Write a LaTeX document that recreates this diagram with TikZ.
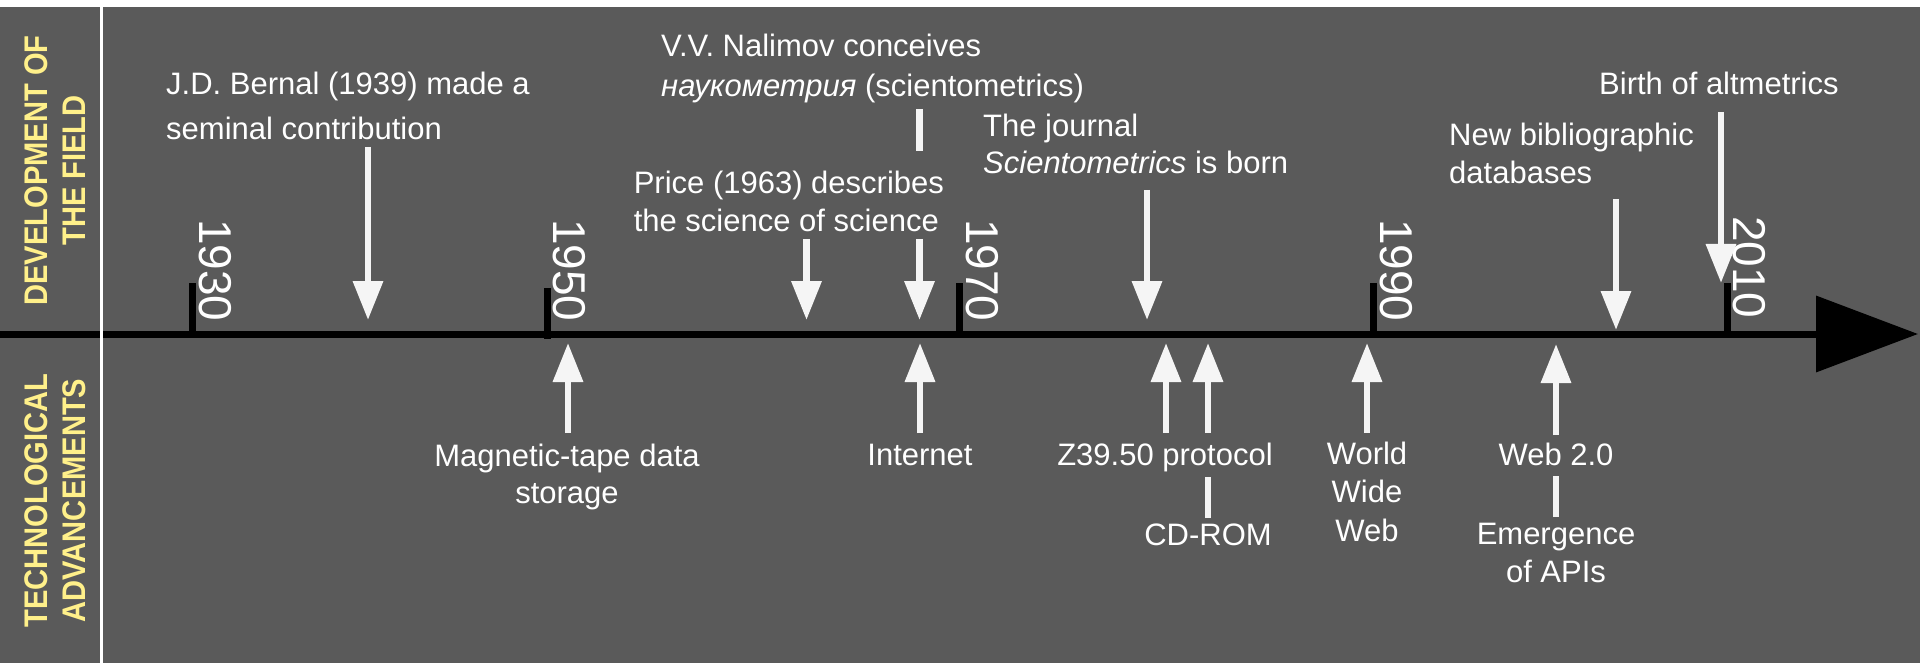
\documentclass[tikz,border=0pt]{standalone}
\usepackage{fontspec}
\setmainfont{Liberation Sans}
\newfontfamily\sidefont{Liberation Sans}[FakeStretch=0.89]
\usetikzlibrary{arrows.meta}

\definecolor{panelgray}{HTML}{5A5A5A}
\definecolor{markwhite}{HTML}{F5F5F5}
\definecolor{sideyellow}{HTML}{FFF08A}

\begin{document}
\begin{tikzpicture}[x=1pt,y=-1pt,
  % multi-line nodes are placed by the baseline of their last line
  evtext/.style={text=white, inner sep=0pt},
  toptext/.style={evtext, anchor=base west, align=left},
  bottext/.style={evtext, anchor=base, align=center},
  yearlbl/.style={text=white, inner sep=0pt, rotate=-90, anchor=base west,
                  font=\fontsize{46}{46}\selectfont},
  sidelbl/.style={text=sideyellow, inner sep=0pt, rotate=90, anchor=base, align=center,
                  font=\sidefont\bfseries\fontsize{32.7}{38}\selectfont},
  evarrow/.style={draw=markwhite, line width=6.5pt, -{Triangle[length=39pt,width=29pt]}},
  evline/.style={draw=markwhite, line width=6.5pt},
  tickmark/.style={draw=black, line width=7pt},
]
\useasboundingbox (0,0) rectangle (1920,663);
\fill[white] (0,0) rectangle (1920,663);
\fill[panelgray] (0,7) rectangle (1920,663);

% time axis
\coordinate (axisstart) at (0,334);
\coordinate (axisend) at (1918,334);
\draw[line width=7pt, -{Triangle[length=102pt,width=75pt]}] (axisstart) -- (axisend);

% decade ticks
\foreach \x/\t/\b in {192.5/283/334, 547/288/339, 959/283/334, 1373/283/334, 1727/283/334}
  \draw[tickmark] (\x,\t) -- (\x,\b);

% column divider
\coordinate (divtop) at (101.3,7);
\coordinate (divbot) at (101.3,663);
\draw[white, line width=3.5pt] (divtop) -- (divbot);

% side headings
\node[sidelbl] (devfield) at (85,170.5) {DEVELOPMENT OF\\THE FIELD};
\node[sidelbl] (techadv) at (85,500.5) {TECHNOLOGICAL\\ADVANCEMENTS};

% decade labels
\node[yearlbl] (y1930) at (199.5,219) {1930};
\node[yearlbl] (y1950) at (553,219) {1950};
\node[yearlbl] (y1970) at (966,219) {1970};
\node[yearlbl] (y1990) at (1380,219) {1990};
\node[yearlbl] (y2010) at (1733,216) {2010};

% development of the field
\node[toptext, font=\fontsize{31}{45}\selectfont] (bernal) at (166,139.3)
  {J.D. Bernal (1939) made a\\seminal contribution};
\node[toptext, font=\fontsize{31}{40}\selectfont] (nalimov) at (661,97)
  {V.V. Nalimov conceives\\\textit{наукометрия} (scientometrics)};
\node[toptext, font=\fontsize{31}{38.3}\selectfont] (price) at (633.6,231.6)
  {Price (1963) describes\\the science of science};
\node[toptext, font=\fontsize{31}{37.3}\selectfont] (journal) at (983,174)
  {The journal\\\textit{Scientometrics} is born};
\node[toptext, font=\fontsize{31}{38}\selectfont] (newbib) at (1449,183.5)
  {New bibliographic\\databases};
\node[toptext, font=\fontsize{31}{38}\selectfont] (altm) at (1599,94.5)
  {Birth of altmetrics};

% technological advancements
\node[bottext, font=\fontsize{31}{37.5}\selectfont] (tape) at (567,503.5)
  {Magnetic-tape data\\storage};
\node[bottext, font=\fontsize{31}{38}\selectfont] (internet) at (920,465) {Internet};
\node[bottext, font=\fontsize{31}{38}\selectfont] (z3950) at (1165,465) {Z39.50 protocol};
\node[bottext, font=\fontsize{31}{38}\selectfont] (cdrom) at (1208,545) {CD-ROM};
\node[bottext, font=\fontsize{31}{38.5}\selectfont] (www) at (1367,541) {World\\Wide\\Web};
\node[bottext, font=\fontsize{31}{38}\selectfont] (web2) at (1556,465) {Web 2.0};
\node[bottext, font=\fontsize{31}{38}\selectfont] (apis) at (1556,582) {Emergence\\of APIs};

% arrow end points
\coordinate (bernal-a) at (368,147);    \coordinate (bernal-b) at (368,320);
\coordinate (price-a) at (806.5,239);   \coordinate (price-b) at (806.5,320);
\coordinate (nalimov-a) at (919.5,109); \coordinate (nalimov-m) at (919.5,151);
\coordinate (nalimov-n) at (919.5,239); \coordinate (nalimov-b) at (919.5,320);
\coordinate (journal-a) at (1147,190);  \coordinate (journal-b) at (1147,320);
\coordinate (newbib-a) at (1616,199);   \coordinate (newbib-b) at (1616,330);
\coordinate (altm-a) at (1721,112);     \coordinate (altm-b) at (1721,283);

\coordinate (tape-a) at (568,433);      \coordinate (tape-b) at (568,343);
\coordinate (internet-a) at (920,433);  \coordinate (internet-b) at (920,343);
\coordinate (z3950-a) at (1166,433);    \coordinate (z3950-b) at (1166,343);
\coordinate (cdrom-a) at (1208,518);    \coordinate (cdrom-m) at (1208,477);
\coordinate (cdrom-n) at (1208,433);    \coordinate (cdrom-b) at (1208,343);
\coordinate (www-a) at (1367,433);      \coordinate (www-b) at (1367,343);
\coordinate (web2-a) at (1556,435);     \coordinate (web2-b) at (1556,344);
\coordinate (apis-a) at (1556,517);     \coordinate (apis-m) at (1556,476);

% event arrows
\draw[evarrow] (bernal-a) -- (bernal-b);
\draw[evarrow] (price-a) -- (price-b);
\draw[evline] (nalimov-a) -- (nalimov-m);
\draw[evarrow] (nalimov-n) -- (nalimov-b);
\draw[evarrow] (journal-a) -- (journal-b);
\draw[evarrow] (newbib-a) -- (newbib-b);
\draw[evarrow] (altm-a) -- (altm-b);

\draw[evarrow] (tape-a) -- (tape-b);
\draw[evarrow] (internet-a) -- (internet-b);
\draw[evarrow] (z3950-a) -- (z3950-b);
\draw[evline] (cdrom-a) -- (cdrom-m);
\draw[evarrow] (cdrom-n) -- (cdrom-b);
\draw[evarrow] (www-a) -- (www-b);
\draw[evarrow] (web2-a) -- (web2-b);
\draw[evline] (apis-a) -- (apis-m);
\end{tikzpicture}
\end{document}
